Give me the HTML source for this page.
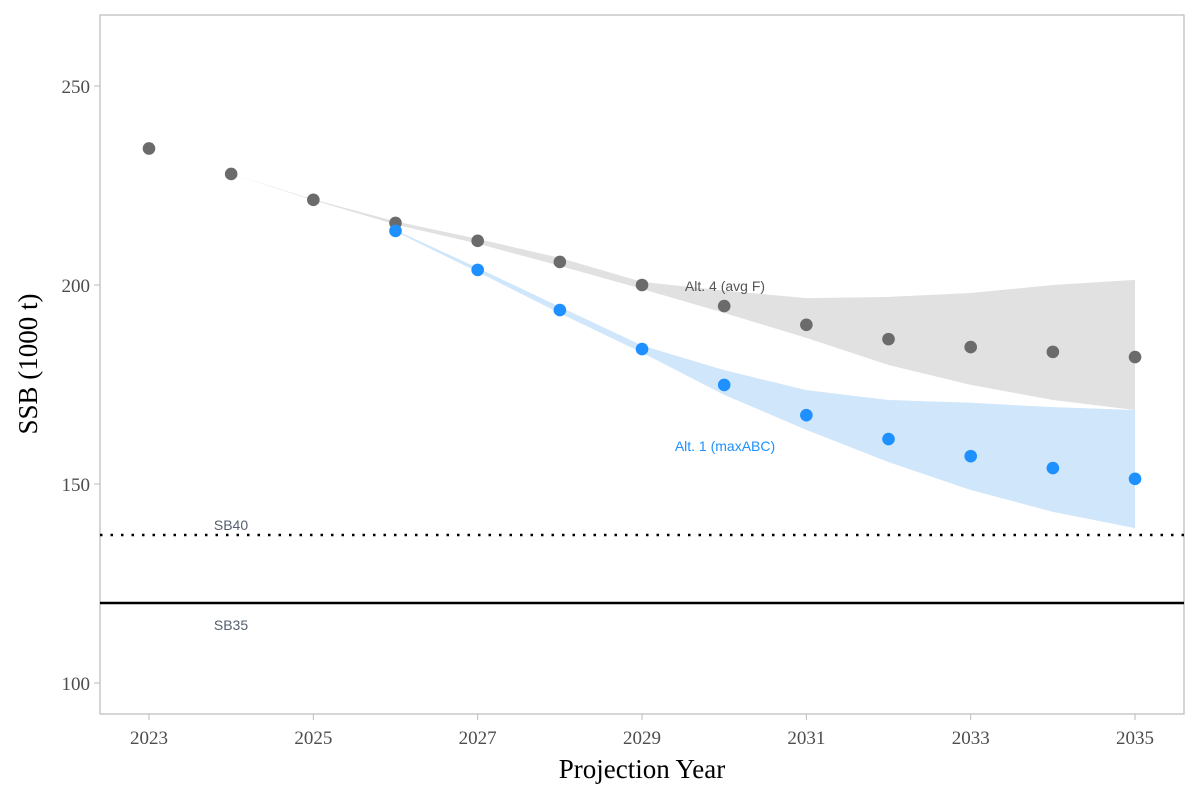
<!DOCTYPE html>
<html><head><meta charset="utf-8"><style>
body{margin:0;background:#fff}
svg text{font-family:"Liberation Serif",serif}
svg text.sans{font-family:"Liberation Sans",sans-serif}
</style></head><body>
<svg id="chart" width="1200" height="800" xmlns="http://www.w3.org/2000/svg">
<rect x="100" y="15" width="1084" height="699" fill="#fff" stroke="#bbb" stroke-width="1.2"/>
<g id="g"></g>
</svg>
<script>
const years=[2023,2024,2025,2026,2027,2028,2029,2030,2031,2032,2033,2034,2035];
const alt4=[234.3,227.9,221.4,215.6,211.1,205.8,200.0,194.7,190.0,186.4,184.4,183.2,181.9];
const alt4Hi=[234.3,227.9,221.5,216.0,211.6,206.8,200.8,198.6,196.7,197.0,198.0,200.0,201.3];
const alt4Lo=[234.3,227.9,221.3,215.2,210.4,204.8,199.0,193.0,186.7,179.9,174.9,171.1,168.6];
const alt1Years=[2026,2027,2028,2029,2030,2031,2032,2033,2034,2035];
const alt1=[213.6,203.8,193.7,183.9,174.9,167.3,161.3,157.0,154.0,151.3];
const alt1Hi=[213.8,204.3,194.5,184.8,178.6,173.6,171.1,170.4,169.3,168.6];
const alt1Lo=[213.4,203.3,192.9,183.0,172.4,163.6,155.5,148.5,143.0,138.9];
const yTicks=[100,150,200,250];
const xTicks=[2023,2025,2027,2029,2031,2033,2035];
const sb40=137.2, sb35=120.1;
const X=v=>149+(v-2023)*82.17;
const Y=v=>683-(v-100)*3.98;
const g=document.getElementById('g');
const NS='http://www.w3.org/2000/svg';
function mk(t,a){const e=document.createElementNS(NS,t);for(const k in a)e.setAttribute(k,a[k]);g.appendChild(e);return e;}
function ribbon(xs,hi,lo,fill,name){
  let d=xs.map((x,i)=>(i?'L':'M')+X(x)+','+Y(hi[i])).join('');
  for(let i=xs.length-1;i>=0;i--)d+='L'+X(xs[i])+','+Y(lo[i]);
  const p=mk('path',{d:d+'Z',fill:fill});
  
  
}
ribbon(years,alt4Hi,alt4Lo,'#e1e1e1','alt4-ribbon');
ribbon(alt1Years,alt1Hi,alt1Lo,'#d0e6fb','alt1-ribbon');
let l=mk('line',{x1:100,x2:1184,y1:Y(sb40),y2:Y(sb40),stroke:'#000','stroke-width':2.5,'stroke-dasharray':'2.5 8'});


l=mk('line',{x1:100,x2:1184,y1:Y(sb35),y2:Y(sb35),stroke:'#000','stroke-width':2.5});


years.forEach((yr,i)=>{const c=mk('circle',{cx:X(yr),cy:Y(alt4[i]),r:6.3,fill:'#6b6b6b'});

});
alt1Years.forEach((yr,i)=>{const c=mk('circle',{cx:X(yr),cy:Y(alt1[i]),r:6.3,fill:'#1e90ff'});

});
function txt(s,a,name){const t=mk('text',a);t.textContent=s;

return t;}
txt('Alt. 4 (avg F)',{x:725,y:291,'font-size':14,fill:'#555','text-anchor':'middle',class:'sans'},'alt4-label');
txt('Alt. 1 (maxABC)',{x:725,y:451,'font-size':14,fill:'#1e90ff','text-anchor':'middle',class:'sans'},'alt1-label');
txt('SB40',{x:231,y:530,'font-size':14,fill:'#556070','text-anchor':'middle',class:'sans'},'sb40-label');
txt('SB35',{x:231,y:630,'font-size':14,fill:'#556070','text-anchor':'middle',class:'sans'},'sb35-label');
yTicks.forEach(v=>{const t=mk('line',{x1:94,x2:100,y1:Y(v),y2:Y(v),stroke:'#bbb'});


txt(v,{x:90,y:Y(v)+7,'font-size':19,fill:'#4d4d4d','text-anchor':'end'},'y-tick-label');});
xTicks.forEach(v=>{const t=mk('line',{x1:X(v),x2:X(v),y1:714,y2:720,stroke:'#bbb'});


txt(v,{x:X(v),y:744,'font-size':19,fill:'#4d4d4d','text-anchor':'middle'},'x-tick-label');});
txt('Projection Year',{x:642,y:778,'font-size':27,fill:'#000','text-anchor':'middle'},'x-axis-title');
txt('SSB (1000 t)',{x:0,y:0,'font-size':27,fill:'#000','text-anchor':'middle',transform:'translate(37,364) rotate(-90)'},'y-axis-title');
</script>
</body></html>
